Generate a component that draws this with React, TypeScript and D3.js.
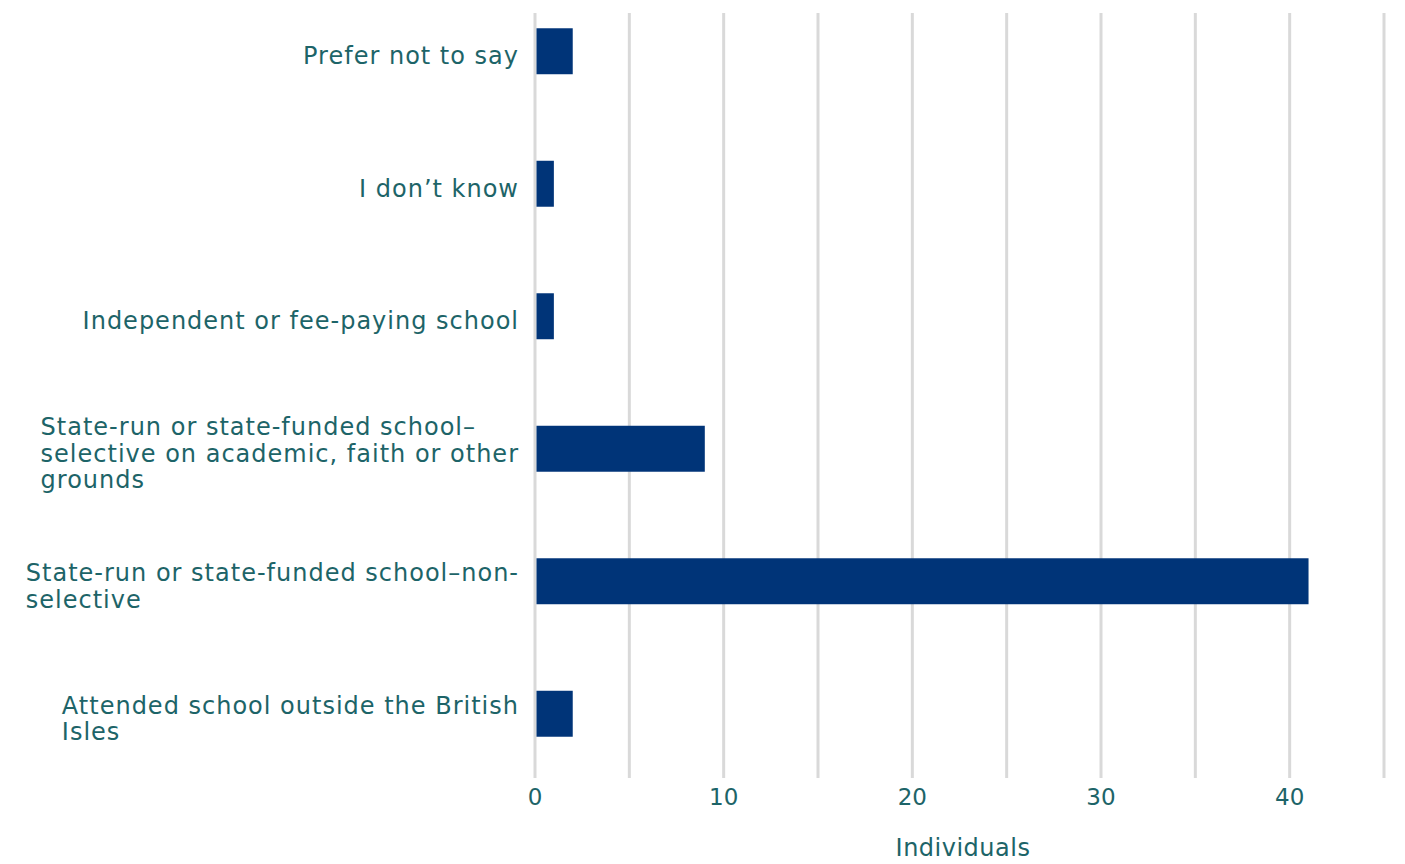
import React from "react";
import * as d3 from "d3";

const categories: string[][] = [
  ["Prefer not to say"],
  ["I don’t know"],
  ["Independent or fee-paying school"],
  ["State-run or state-funded school–", "selective on academic, faith or other", "grounds"],
  ["State-run or state-funded school–non-", "selective"],
  ["Attended school outside the British", "Isles"],
];
const values: number[] = [2, 1, 1, 9, 41, 2];
const tickValues: number[] = [0, 10, 20, 30, 40];
const gridValues: number[] = [0, 5, 10, 15, 20, 25, 30, 35, 40, 45];
const axisTitle = "Individuals";

const FONT = "'DejaVu Sans', sans-serif";
const LABEL_SIZE = 24;
const LETTER_SP = 1.0;
const TEXT_COLOR = "#1d6468";
const BAR_COLOR = "#003478";
const GRID_COLOR = "#d9d9d9";

let ctx: CanvasRenderingContext2D | null = null;
function measure(s: string): number {
  if (!ctx) ctx = document.createElement("canvas").getContext("2d");
  if (!ctx) return s.length * 14;
  ctx.font = `${LABEL_SIZE}px 'DejaVu Sans'`;
  return ctx.measureText(s).width + LETTER_SP * s.length;
}

export default function App() {
  const W = 1405;
  const H = 864;
  const x = d3.scaleLinear().domain([0, 45]).range([535, 1384]);
  const keys = categories.map((c) => c.join(" "));
  const y = d3.scaleBand<string>().domain(keys).range([-15, 780]).paddingInner(0.653).paddingOuter(0.3265);
  const labelRight = 519;
  const lineH = 26.5;

  return (
    <svg width={W} height={H} style={{ position: "absolute", left: 0, top: 0, background: "#fff" }}>
      {gridValues.map((g) => (
        <line key={g} x1={x(g)} x2={x(g)} y1={13} y2={778} stroke={GRID_COLOR} strokeWidth={3} />
      ))}
      {keys.map((k, i) => (
        <rect key={k} x={x(0) + 1.5} y={y(k)} width={Math.max(0, x(values[i]) - x(0) - 1.5)} height={y.bandwidth()} fill={BAR_COLOR} />
      ))}
      {categories.map((lines, i) => {
        const cy = (y(keys[i]) as number) + y.bandwidth() / 2 + 5;
        const maxW = Math.max(...lines.map(measure));
        const left = labelRight - maxW;
        const top = cy - ((lines.length - 1) * lineH) / 2;
        return (
          <text key={i} fontFamily={FONT} fontSize={LABEL_SIZE} fill={TEXT_COLOR} letterSpacing={LETTER_SP}>
            {lines.map((l, j) => (
              <tspan key={j} x={lines.length === 1 ? labelRight : left} textAnchor={lines.length === 1 ? "end" : "start"} y={top + j * lineH} dominantBaseline="central">
                {l}
              </tspan>
            ))}
          </text>
        );
      })}
      {tickValues.map((t) => (
        <text key={t} x={x(t)} y={797} textAnchor="middle" dominantBaseline="central" fontFamily={FONT} fontSize={23} fill={TEXT_COLOR}>
          {t}
        </text>
      ))}
      <text x={963} y={848} textAnchor="middle" dominantBaseline="central" fontFamily={FONT} fontSize={24} fill={TEXT_COLOR} letterSpacing={0.5}>
        {axisTitle}
      </text>
    </svg>
  );
}
